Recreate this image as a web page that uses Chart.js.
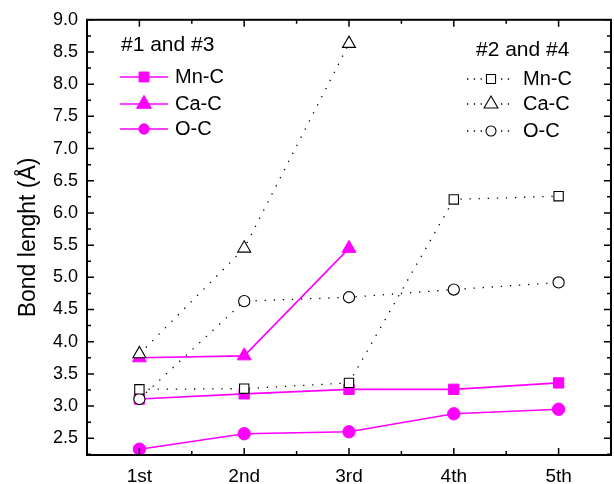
<!DOCTYPE html>
<html>
<head>
<meta charset="utf-8">
<title>Bond length</title>
<script src="https://cdn.jsdelivr.net/npm/chart.js@4/dist/chart.umd.min.js"></script>
<style>
  html, body { margin: 0; padding: 0; background: #fff; overflow: hidden; }
  #wrap { width: 620px; height: 484px; }
</style>
</head>
<body>
<div id="wrap"><canvas id="bondChart" width="620" height="484"></canvas></div>
<script>
const positions = ["1st", "2nd", "3rd", "4th", "5th"];
const yTicks = [2.5, 3.0, 3.5, 4.0, 4.5, 5.0, 5.5, 6.0, 6.5, 7.0, 7.5, 8.0, 8.5, 9.0];

// #1 and #3 (solid magenta)
const mnC13 = [3.11, 3.19, 3.26, 3.26, 3.36];
const caC13 = [3.75, 3.78, 5.45, null, null];
const oC13 = [2.33, 2.57, 2.60, 2.88, 2.95];

// #2 and #4 (dotted, open symbols)
const mnC24 = [3.26, 3.27, 3.36, 6.21, 6.26];
const caC24 = [3.81, 5.45, 8.63, null, null];
const oC24 = [3.11, 4.63, 4.69, 4.81, 4.92];

const MAGENTA = "#ff00ff";
const FONT = '"Liberation Sans", Arial, sans-serif';
Chart.defaults.font.family = FONT;
Chart.defaults.color = "#000";

function solid(label, data, style, r, legendR) {
  return {
    label, data, group: 1, order: 2, legendR,
    borderColor: MAGENTA, backgroundColor: MAGENTA, borderWidth: 1.6,
    pointStyle: style, pointRadius: r, pointHoverRadius: r,
    pointBackgroundColor: MAGENTA, pointBorderColor: MAGENTA, pointBorderWidth: 1
  };
}

function dotted(label, data, style, r, legendR) {
  return {
    label, data, group: 2, order: 1, legendR,
    borderColor: "#000", backgroundColor: "#fff", borderWidth: 1.3,
    borderDash: [1.3, 7.8],
    pointStyle: style, pointRadius: r, pointHoverRadius: r,
    pointBackgroundColor: "#fff", pointBorderColor: "#000", pointBorderWidth: 1.1
  };
}

const datasets = [
  dotted("Mn-C", mnC24, "rect", 6.6, 6.4),
  dotted("Ca-C", caC24, "triangle", 7.5, 8),
  dotted("O-C", oC24, "circle", 5.6, 5),
  solid("Mn-C", mnC13, "rect", 7.3, 7),
  solid("Ca-C", caC13, "triangle", 8, 8.6),
  solid("O-C", oC13, "circle", 6.2, 5.2)
];

// frame with inward major/minor ticks on all four sides
const framePlugin = {
  id: "frame",
  afterDraw(chart) {
    const { ctx, chartArea: a, scales: { x, y } } = chart;
    ctx.save();
    ctx.strokeStyle = "#000";
    ctx.lineWidth = 2;
    ctx.strokeRect(a.left, a.top, a.right - a.left, a.bottom - a.top);
    ctx.lineWidth = 1.5;
    ctx.beginPath();
    for (let v = 2.25; v <= 9.001; v += 0.25) {
      if (v < y.min) continue;
      const py = y.getPixelForValue(v);
      const len = Math.abs(v * 2 - Math.round(v * 2)) < 1e-6 ? 7 : 4;
      ctx.moveTo(a.left, py); ctx.lineTo(a.left + len, py);
      ctx.moveTo(a.right, py); ctx.lineTo(a.right - len, py);
    }
    positions.forEach((p, i) => {
      [[i, 7], [i + 0.5, 4]].forEach(([v, len]) => {
        const px = x.getPixelForValue(v);
        ctx.moveTo(px, a.bottom); ctx.lineTo(px, a.bottom - len);
        ctx.moveTo(px, a.top); ctx.lineTo(px, a.top + len);
      });
    });
    ctx.stroke();
    ctx.restore();
  }
};

// two separate legend blocks, one per group of datasets
const legendBoxes = [
  { group: 1, title: "#1 and #3", titleX: 121, titleY: 45, x0: 120, x1: 168, mx: 144, tx: 175, rows: [77, 104, 129] },
  { group: 2, title: "#2 and #4", titleX: 476, titleY: 50, x0: 467, x1: 512, mx: 491, tx: 523, rows: [79, 104, 131] }
];

const legendPlugin = {
  id: "twoLegends",
  afterDraw(chart) {
    const ctx = chart.ctx;
    ctx.save();
    ctx.textBaseline = "middle";
    legendBoxes.forEach(box => {
      ctx.fillStyle = "#000";
      ctx.font = "21px " + FONT;
      ctx.fillText(box.title, box.titleX, box.titleY);
      ctx.font = "20px " + FONT;
      const sets = chart.data.datasets.filter(d => d.group === box.group);
      sets.forEach((ds, i) => {
        const cy = box.rows[i];
        ctx.strokeStyle = ds.borderColor;
        ctx.lineWidth = ds.borderWidth;
        ctx.setLineDash(ds.borderDash ? [1.3, 5.5] : []);
        ctx.beginPath();
        ctx.moveTo(box.x0, cy);
        ctx.lineTo(box.x1, cy);
        ctx.stroke();
        ctx.setLineDash([]);
        ctx.fillStyle = ds.pointBackgroundColor;
        ctx.strokeStyle = ds.pointBorderColor;
        ctx.lineWidth = ds.pointBorderWidth;
        Chart.helpers.drawPoint(ctx, {
          pointStyle: ds.pointStyle, rotation: 0,
          radius: ds.legendR, borderWidth: ds.pointBorderWidth
        }, box.mx, cy);
        ctx.fillStyle = "#000";
        ctx.fillText(ds.label, box.tx, cy);
      });
    });
    ctx.restore();
  }
};

new Chart(document.getElementById("bondChart"), {
  type: "line",
  data: { labels: positions, datasets },
  options: {
    responsive: false,
    animation: false,
    layout: { padding: { top: 19, right: 1, left: 0, bottom: 0 } },
    plugins: { legend: { display: false }, tooltip: { enabled: false } },
    scales: {
      x: {
        type: "category",
        offset: true,
        grid: { display: false, drawTicks: false },
        border: { display: false },
        ticks: { font: { size: 19 }, padding: 10, color: "#000" },
        afterFit: s => { s.height = 29; }
      },
      y: {
        min: 2.24,
        max: 9.0,
        grid: { display: false, drawTicks: false },
        border: { display: false },
        afterBuildTicks: s => { s.ticks = yTicks.map(v => ({ value: v })); },
        ticks: { font: { size: 18 }, padding: 9, color: "#000", callback: v => Number(v).toFixed(1) },
        title: { display: true, text: "Bond lenght (Å)", font: { size: 23 }, color: "#000", padding: { top: 15, bottom: 0 } },
        afterFit: s => { s.width = 87; }
      }
    }
  },
  plugins: [framePlugin, legendPlugin]
});
</script>
</body>
</html>
